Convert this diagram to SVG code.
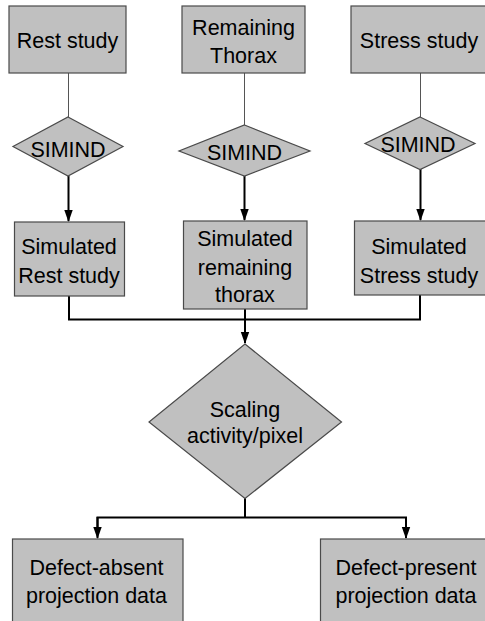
<svg xmlns="http://www.w3.org/2000/svg" width="485" height="621" viewBox="0 0 485 621">
<defs>
<style>
.n{fill:#c0c0c0;stroke:#4a4a4a;stroke-width:1.2}
.t{font-family:"Liberation Sans",Arial,sans-serif;font-size:21.5px;fill:#000;text-anchor:middle}
.thin{stroke:#555;stroke-width:1;fill:none}
.thick{stroke:#000;stroke-width:2;fill:none}
.ar{stroke:#000;stroke-width:2;fill:none;marker-end:url(#a)}
</style>
<marker id="a" markerWidth="6" markerHeight="5" refX="5.5" refY="2.5" orient="auto" markerUnits="strokeWidth">
<path d="M0,0.4 L6,2.5 L0,4.6 Z" fill="#000"/>
</marker>
</defs>
<rect width="485" height="621" fill="#fff"/>
<g id="connectors">
<line class="thin" x1="68.5" y1="73" x2="68.5" y2="117"/>
<line class="thin" x1="244.5" y1="73" x2="244.5" y2="125"/>
<line class="thin" x1="420.5" y1="73" x2="420.5" y2="117"/>
<line class="ar" x1="68.5" y1="176" x2="68.5" y2="221"/>
<line class="ar" x1="244.5" y1="176" x2="244.5" y2="220"/>
<line class="ar" x1="420.5" y1="169" x2="420.5" y2="220"/>
<polyline class="thick" points="69,296 69,319.5 420,319.5 420,295"/>
<line class="ar" x1="245" y1="309" x2="245" y2="343"/>
<line class="thick" x1="245" y1="498" x2="245" y2="518"/>
<polyline class="thick" points="97.5,529 97.5,517.5 406,517.5 406,529"/>
<line class="ar" x1="97.5" y1="517" x2="97.5" y2="538"/>
<line class="ar" x1="406" y1="517" x2="406" y2="538"/>
</g>
<g id="rest">
<rect class="n" x="9" y="6" width="117" height="67"/>
<text class="t" x="67.5" y="48">Rest study</text>
</g>
<g id="thorax">
<rect class="n" x="182" y="6" width="123" height="67"/>
<text class="t" x="243.5" y="35">Remaining</text>
<text class="t" x="243.5" y="63">Thorax</text>
</g>
<g id="stress">
<rect class="n" x="351" y="6" width="140" height="67"/>
<text class="t" x="419" y="48">Stress study</text>
</g>
<g id="simind1">
<polygon class="n" points="68,117 123,146.5 68,176 13,146.5"/>
<text class="t" x="68" y="156.5">SIMIND</text>
</g>
<g id="simind2">
<polygon class="n" points="244.5,125 310,151 244.5,176 179,151"/>
<text class="t" x="244.5" y="160">SIMIND</text>
</g>
<g id="simind3">
<polygon class="n" points="420,117 475,143.5 420,169.5 365,143.5"/>
<text class="t" x="418" y="151.5">SIMIND</text>
</g>
<g id="simrest">
<rect class="n" x="14.5" y="222" width="110" height="74"/>
<text class="t" x="69" y="254">Simulated</text>
<text class="t" x="69" y="282.5">Rest study</text>
</g>
<g id="simthorax">
<rect class="n" x="183.5" y="221" width="123.5" height="88"/>
<text class="t" x="245" y="245.5">Simulated</text>
<text class="t" x="245" y="275">remaining</text>
<text class="t" x="245" y="302">thorax</text>
</g>
<g id="simstress">
<rect class="n" x="354.5" y="221" width="135" height="74"/>
<text class="t" x="419" y="254">Simulated</text>
<text class="t" x="419" y="282.5">Stress study</text>
</g>
<g id="scaling">
<polygon class="n" points="245,344 341.5,422 245,498.5 149,422"/>
<text class="t" x="245" y="416.5">Scaling</text>
<text class="t" x="245" y="443">activity/pixel</text>
</g>
<g id="absent">
<rect class="n" x="12.5" y="539" width="170.5" height="90"/>
<text class="t" x="96.5" y="575">Defect-absent</text>
<text class="t" x="96.5" y="603">projection data</text>
</g>
<g id="present">
<rect class="n" x="320.5" y="539" width="170" height="90"/>
<text class="t" x="406" y="575">Defect-present</text>
<text class="t" x="406" y="603">projection data</text>
</g>
</svg>
